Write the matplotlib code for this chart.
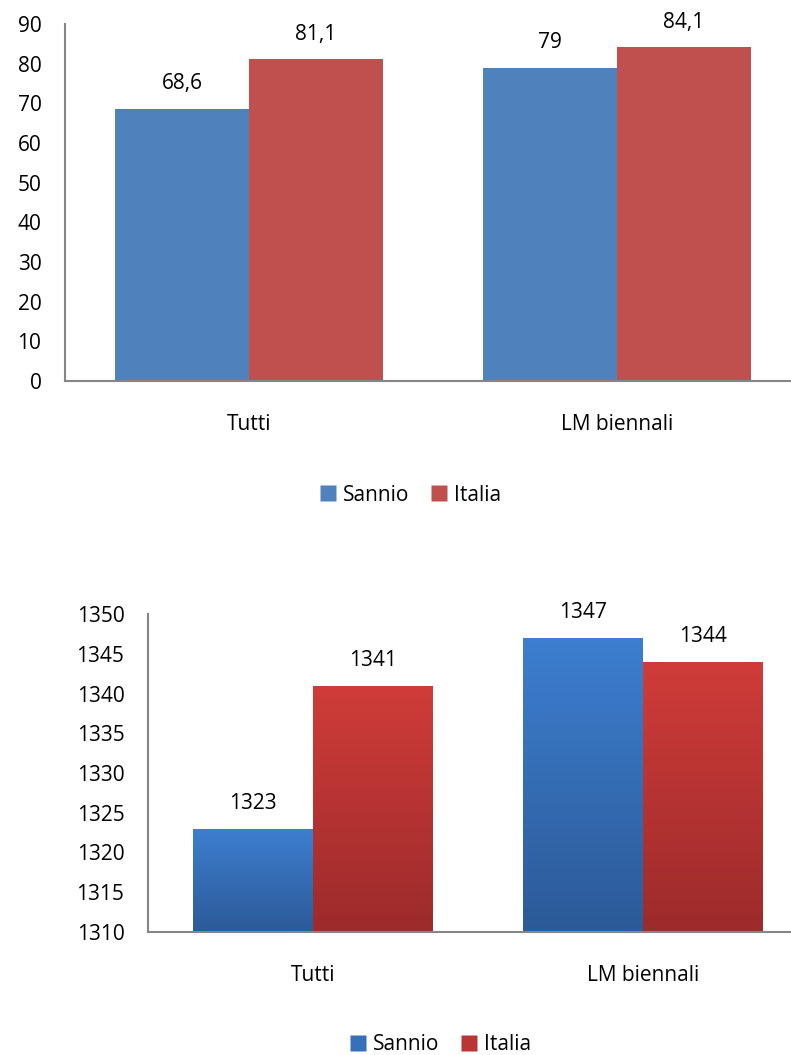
import matplotlib
matplotlib.use("Agg")
import matplotlib.pyplot as plt
import numpy as np
from matplotlib.lines import Line2D
from matplotlib.colors import LinearSegmentedColormap

categories = ["Tutti", "LM biennali"]
series = ["Sannio", "Italia"]
top_sannio = [68.6, 79]
top_italia = [81.1, 84.1]
top_labels_sannio = ["68,6", "79"]
top_labels_italia = ["81,1", "84,1"]
bot_sannio = [1323, 1347]
bot_italia = [1341, 1344]
top_yticks = [0, 10, 20, 30, 40, 50, 60, 70, 80, 90]
bot_yticks = [1310, 1315, 1320, 1325, 1330, 1335, 1340, 1345, 1350]

FONT = ["Open Sans", "DejaVu Sans"]
plt.rcParams['font.family'] = FONT
FS = 15
W, H = 791, 1055
fig = plt.figure(figsize=(W / 100, H / 100), dpi=100)

def axpos(x0, y0, x1, y1):
    return [x0 / W, 1 - y1 / H, (x1 - x0) / W, (y1 - y0) / H]

bw = 1 / 2.75  # gap width 75%
x = np.arange(len(categories))

def style(ax, yticks, ylim):
    ax.set_xlim(-0.5, 1.5)
    ax.set_ylim(*ylim)
    ax.set_yticks(yticks)
    ax.set_xticks(x)
    ax.set_xticklabels(categories)
    for s in ["top", "right"]:
        ax.spines[s].set_visible(False)
    for s in ["left", "bottom"]:
        ax.spines[s].set_color("#868686")
        ax.spines[s].set_linewidth(1.5)
    ax.tick_params(axis="both", length=0, labelsize=FS, colors="black")
    ax.tick_params(axis="y", pad=17)
    ax.tick_params(axis="x", pad=23.5)

# ---- top chart
ax1 = fig.add_axes(axpos(65, 24, 801, 381))
b1 = ax1.bar(x - bw / 2, top_sannio, bw, color="#4F81BD", edgecolor="none")
b2 = ax1.bar(x + bw / 2, top_italia, bw, color="#C0504D", edgecolor="none")
style(ax1, top_yticks, (0, 90))
for bars, labs in ((b1, top_labels_sannio), (b2, top_labels_italia)):
    for r, lab in zip(bars, labs):
        ax1.annotate(lab, (r.get_x() + r.get_width() / 2, r.get_height()),
                     xytext=(0, 25), textcoords="offset pixels",
                     ha="center", va="center", fontsize=FS)

# ---- bottom chart
ax2 = fig.add_axes(axpos(148, 614, 808, 932))
base = 1310
c1 = ax2.bar(x - bw / 2, np.array(bot_sannio) - base, bw, bottom=base,
             color="none", edgecolor="none")
c2 = ax2.bar(x + bw / 2, np.array(bot_italia) - base, bw, bottom=base,
             color="none", edgecolor="none")
style(ax2, bot_yticks, (1310, 1350))
cm_blue = LinearSegmentedColormap.from_list("b", ["#2C5A97", "#3D7FD0"])
cm_red = LinearSegmentedColormap.from_list("r", ["#9C2B2B", "#D03C39"])
grad = np.linspace(0, 1, 256).reshape(-1, 1)
for bars, cm in ((c1, cm_blue), (c2, cm_red)):
    for r in bars:
        x0, y0, w, h = r.get_x(), r.get_y(), r.get_width(), r.get_height()
        im = ax2.imshow(grad, cmap=cm, aspect="auto", origin="lower",
                        extent=(x0, x0 + w, y0, y0 + h), zorder=1)
        im.set_clip_path(r)
for bars, vals in ((c1, bot_sannio), (c2, bot_italia)):
    for r, v in zip(bars, vals):
        ax2.annotate(str(v), (r.get_x() + r.get_width() / 2, v),
                     xytext=(0, 25), textcoords="offset pixels",
                     ha="center", va="center", fontsize=FS)
ax2.set_xlim(-0.5, 1.5)
ax2.set_ylim(1310, 1350)

def legend(colors, cx, cy):
    handles = [Line2D([], [], linestyle="none", marker="s", markersize=11,
                      markerfacecolor=c, markeredgecolor="none") for c in colors]
    fig.legend(handles, series, loc="center", bbox_to_anchor=(cx / W, 1 - cy / H),
               ncol=2, frameon=False, fontsize=FS, handlelength=0.7,
               handletextpad=0.35, columnspacing=1.1, borderaxespad=0)

legend(["#4F81BD", "#C0504D"], 411, 495)
legend(["#3670B8", "#BA3634"], 441, 1045)

fig.savefig("out.png", dpi=100)
